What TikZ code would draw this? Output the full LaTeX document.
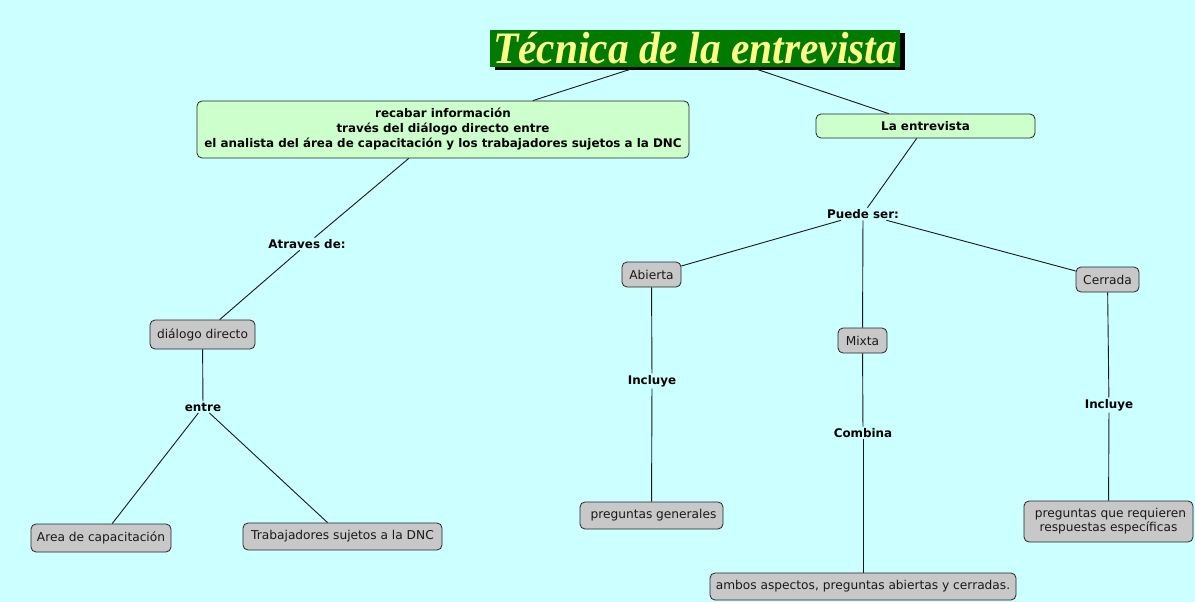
\documentclass[tikz,border=0pt]{standalone}
\usepackage{fontspec}
\setmainfont{DejaVu Sans}
\newfontfamily\titlefont{Liberation Serif}
\usetikzlibrary{shadows}
\definecolor{bgc}{HTML}{CCFFFF}
\definecolor{greenc}{HTML}{CCFFCC}
\definecolor{grayc}{HTML}{C8C8C8}
\definecolor{titlegreen}{HTML}{007A00}
\definecolor{titleyellow}{HTML}{FFFF88}
\begin{document}
\begin{tikzpicture}[x=1pt,y=-1pt,
  box/.style={draw=black!85, line width=0.8pt, rounded corners=5pt, inner sep=0pt, align=center},
  gconcept/.style={box, fill=greenc, font=\fontsize{11.9}{15}\selectfont\bfseries},
  concept/.style={box, fill=grayc, font=\fontsize{12.2}{14}\selectfont, text=black!90},
  linkp/.style={inner sep=1.5pt, font=\fontsize{11.9}{13}\selectfont\bfseries},
  conn/.style={draw=black!90, line width=0.9pt}
]
\fill[bgc] (0,0) rectangle (1195,602);
\useasboundingbox (0,0) rectangle (1195,602);

% title
\node[fill=titlegreen, minimum width=410pt, minimum height=37pt, inner sep=0pt,
      drop shadow={shadow xshift=5pt, shadow yshift=-3pt, opacity=1, fill=black},
      text=titleyellow] (title) at (695,48.5)
      {\scalebox{0.92}[1]{\fontsize{45}{45}\selectfont\titlefont\bfseries\itshape Técnica de la entrevista}};

% concepts
\node[gconcept, minimum width=492pt, minimum height=57pt] (recabar) at (443,129.5)
  {recabar información\\ través del diálogo directo entre\\ el analista del área de capacitación y los trabajadores sujetos a la DNC};
\node[gconcept, minimum width=219pt, minimum height=24pt] (entrevista) at (925.5,126) {La entrevista};

\node[concept, minimum width=105pt, minimum height=29pt] (dialogo) at (202.5,334.5) {diálogo directo};
\node[concept, minimum width=140pt, minimum height=28pt] (area) at (101,538) {Area de capacitación};
\node[concept, minimum width=199pt, minimum height=27pt] (trab) at (342.5,536.5) {Trabajadores sujetos a la DNC};

\node[concept, minimum width=59pt, minimum height=25pt] (abierta) at (651.5,274.5) {Abierta};
\node[concept, minimum width=49pt, minimum height=25pt] (mixta) at (862.5,340.5) {Mixta};
\node[concept, minimum width=63pt, minimum height=25pt] (cerrada) at (1107.5,279.5) {Cerrada};

\node[concept, minimum width=143pt, minimum height=27pt] (pg) at (651.5,515.5) {\hspace*{4pt}preguntas generales};
\node[concept, minimum width=306pt, minimum height=27pt] (ambos) at (863,586.5) {ambos aspectos, preguntas abiertas y cerradas.};
\node[concept, minimum width=169pt, minimum height=41pt] (pq) at (1108.5,521.5) {\hspace*{4pt}preguntas que requieren\\ respuestas específicas};

% linking phrases
\node[linkp] (atraves) at (307,244) {Atraves de:};
\node[linkp] (entre) at (203,407) {entre};
\node[linkp] (puede) at (863,214) {Puede ser:};
\node[linkp] (inclA) at (652,381) {Incluye};
\node[linkp] (combina) at (863,433) {Combina};
\node[linkp] (inclC) at (1109,405) {Incluye};

% connectors
\draw[conn] (title) -- (recabar);
\draw[conn] (title) -- (entrevista);
\draw[conn] (recabar) -- (atraves);
\draw[conn] (atraves) -- (dialogo);
\draw[conn] (dialogo) -- (entre);
\draw[conn] (entre) -- (area);
\draw[conn] (entre) -- (trab);
\draw[conn] (entrevista) -- (puede);
\draw[conn] (puede) -- (abierta);
\draw[conn] (puede) -- (mixta);
\draw[conn] (puede) -- (cerrada);
\draw[conn] (abierta) -- (inclA);
\draw[conn] (inclA) -- (pg);
\draw[conn] (mixta) -- (combina);
\draw[conn] (combina) -- (ambos);
\draw[conn] (cerrada) -- (inclC);
\draw[conn] (inclC) -- (pq);
\end{tikzpicture}
\end{document}
